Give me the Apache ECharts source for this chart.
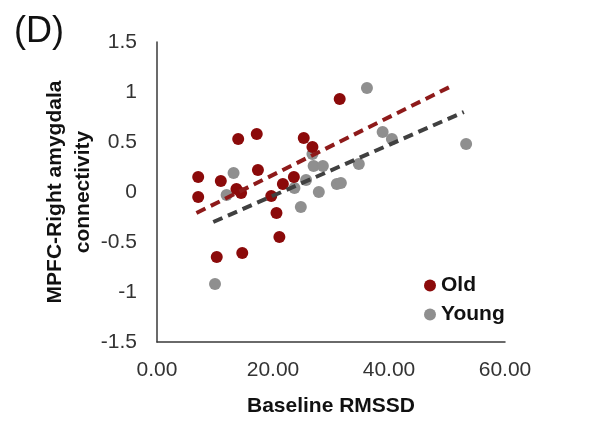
<!DOCTYPE html>
<html>
<head>
<meta charset="utf-8">
<script src="https://cdn.jsdelivr.net/npm/echarts@6/dist/echarts.min.js"></script>
<style>
  html, body { margin: 0; padding: 0; background: #fff; }
  #chart { width: 611px; height: 427px; }
</style>
</head>
<body>
<div id="chart"></div>
<script>
// 数据
const oldPoints = [
    [7.1, 0.15], [7.1, -0.05], [10.3, -0.65], [11.0, 0.11], [13.7, 0.03],
    [14.0, 0.53], [14.5, -0.01], [14.7, -0.61], [17.2, 0.58], [17.4, 0.22],
    [19.7, -0.04], [20.6, -0.21], [21.1, -0.45], [21.7, 0.08], [23.6, 0.15],
    [25.3, 0.54], [26.8, 0.45], [31.5, 0.93]
];
const youngPoints = [
    [10.0, -0.92], [12.0, -0.03], [13.2, 0.19], [23.7, 0.04], [24.8, -0.15],
    [25.7, 0.12], [26.8, 0.38], [27.0, 0.26], [28.6, 0.26], [27.9, 0.0],
    [31.0, 0.08], [31.7, 0.09], [34.8, 0.28], [36.2, 1.04], [38.9, 0.60],
    [40.5, 0.53], [53.3, 0.48]
];
// 趋势线端点
const oldTrend = [[6.8, -0.21], [50.8, 1.06]];
const youngTrend = [[9.7, -0.30], [52.9, 0.80]];

const seriesNames = ['Old', 'Young'];
const xTitle = 'Baseline RMSSD';
const yTitle = 'MPFC-Right amygdala\nconnectivity';
const panelLabel = '(D)';

const RED = '#8b0a0a';
const GRAY = '#8f8f8f';
const font = 'Arial, "Liberation Sans", sans-serif';

const chart = echarts.init(document.getElementById('chart'));

const option = {
    animation: false,
    textStyle: { fontFamily: font },
    title: {
        text: panelLabel,
        left: 9, top: 9,
        textStyle: { fontSize: 36, fontWeight: 'normal', color: '#111', fontFamily: font }
    },
    grid: { left: 157, right: 106, top: 42, bottom: 85 },
    legend: {
        data: seriesNames,
        orient: 'vertical',
        left: 419, top: 270,
        itemGap: 8,
        itemWidth: 12, itemHeight: 12,
        icon: 'circle',
        textStyle: { fontSize: 21, fontWeight: 'bold', color: '#111', fontFamily: font, padding: [0, 0, 0, 0] }
    },
    xAxis: {
        type: 'value',
        min: 0, max: 60, interval: 20,
        name: xTitle,
        nameLocation: 'middle',
        nameGap: 54,
        nameMoveOverlap: false,
        nameTextStyle: { fontSize: 21, fontWeight: 'bold', color: '#111' },
        axisLine: { onZero: false, lineStyle: { color: '#3a3a3a', width: 1.5 } },
        axisTick: { show: false },
        splitLine: { show: false },
        axisLabel: {
            margin: 18, fontSize: 21, color: '#333',
            formatter: v => v.toFixed(2)
        }
    },
    yAxis: {
        type: 'value',
        min: -1.5, max: 1.5, interval: 0.5,
        name: yTitle,
        nameLocation: 'middle',
        nameGap: 60,
        nameMoveOverlap: false,
        nameTextStyle: { fontSize: 21, fontWeight: 'bold', color: '#111', lineHeight: 28 },
        axisLine: { show: true, onZero: false, lineStyle: { color: '#3a3a3a', width: 1.5 } },
        axisTick: { show: false },
        splitLine: { show: false },
        axisLabel: { margin: 20, fontSize: 21, color: '#333' }
    },
    series: [
        {
            name: 'Old',
            type: 'scatter',
            data: oldPoints,
            symbolSize: 12,
            itemStyle: { color: RED, opacity: 1 },
            z: 3
        },
        {
            name: 'Young',
            type: 'scatter',
            data: youngPoints,
            symbolSize: 12,
            itemStyle: { color: GRAY, opacity: 1 },
            z: 2
        },
        {
            name: 'Old trend',
            type: 'line',
            data: oldTrend,
            symbol: 'none',
            lineStyle: { color: '#8e1a1a', width: 4, type: [10, 6] },
            z: 4
        },
        {
            name: 'Young trend',
            type: 'line',
            data: youngTrend,
            symbol: 'none',
            lineStyle: { color: '#404040', width: 4, type: [10, 6] },
            z: 4
        }
    ]
};

chart.setOption(option);
</script>
</body>
</html>
